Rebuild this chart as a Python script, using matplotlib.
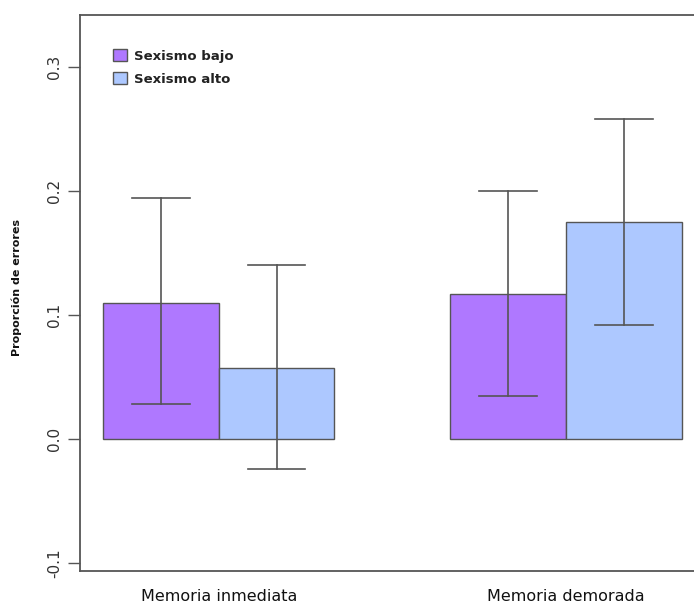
import numpy as np
import matplotlib

matplotlib.use("Agg")
import matplotlib.pyplot as plt
from matplotlib.patches import Patch

# datos
conditions = ["Memoria inmediata", "Memoria demorada"]
groups = ["Sexismo bajo", "Sexismo alto"]
means_bajo = [0.110, 0.117]
means_alto = [0.057, 0.175]
lower_bajo = [0.028, 0.035]
upper_bajo = [0.194, 0.200]
lower_alto = [-0.024, 0.092]
upper_alto = [0.140, 0.258]
yticks = [-0.1, 0.0, 0.1, 0.2, 0.3]

col_bajo = "#AF78FF"
col_alto = "#ADC8FF"
edge = "#555555"

fig = plt.figure(figsize=(6.94, 6.06), dpi=100)
ax = fig.add_axes([80 / 694, 35 / 606, 614 / 694, 556 / 606])

# posiciones tipo barplot de R (beside=TRUE, space=c(0,1))
x_bajo = np.array([1.0, 4.0])
x_alto = x_bajo + 1.0
width = 1.0

ax.bar(x_bajo, means_bajo, width=width, color=col_bajo, edgecolor=edge, linewidth=1.0, zorder=2)
ax.bar(x_alto, means_alto, width=width, color=col_alto, edgecolor=edge, linewidth=1.0, zorder=2)

def _errbars(xs, lo, hi):
    for x, l, h in zip(xs, lo, hi):
        ax.plot([x, x], [l, h], color=edge, lw=1.2, zorder=3)
        for yy in (l, h):
            ax.plot([x - 0.25, x + 0.25], [yy, yy], color=edge, lw=1.2, zorder=3)

_errbars(x_bajo, lower_bajo, upper_bajo)
_errbars(x_alto, lower_alto, upper_alto)

ax.set_xlim(0.301, 5.608)
ax.set_ylim(-0.1065, 0.342)

ax.set_yticks(yticks)
ax.set_yticklabels([f"{v:.1f}" for v in yticks], rotation=90, va="center",
                   fontsize=11, color="#333333")
ax.tick_params(axis="y", length=9, width=1.0, color=edge, pad=4)
ax.set_xticks((x_bajo + x_alto) / 2)
ax.set_xticklabels(conditions, fontsize=11.5, color="#111111")
ax.tick_params(axis="x", length=0, pad=13)

for side in ("left", "top", "bottom"):
    ax.spines[side].set_color(edge)
    ax.spines[side].set_linewidth(1.3)
ax.spines["right"].set_visible(False)

fig.text(17 / 694, 1 - 287 / 606, "Proporción de errores", rotation=90,
         ha="center", va="center", fontsize=8, fontweight="bold", color="#111111")

handles = [Patch(facecolor=col_bajo, edgecolor=edge), Patch(facecolor=col_alto, edgecolor=edge)]
leg = ax.legend(handles, groups, loc="upper left", bbox_to_anchor=(0.035, 0.96),
                frameon=False, fontsize=9.5, handlelength=1.0, handleheight=1.0,
                handletextpad=0.6, labelspacing=0.75)
for t in leg.get_texts():
    t.set_fontweight("semibold")
    t.set_color("#222222")

fig.savefig("out.png", dpi=100)
